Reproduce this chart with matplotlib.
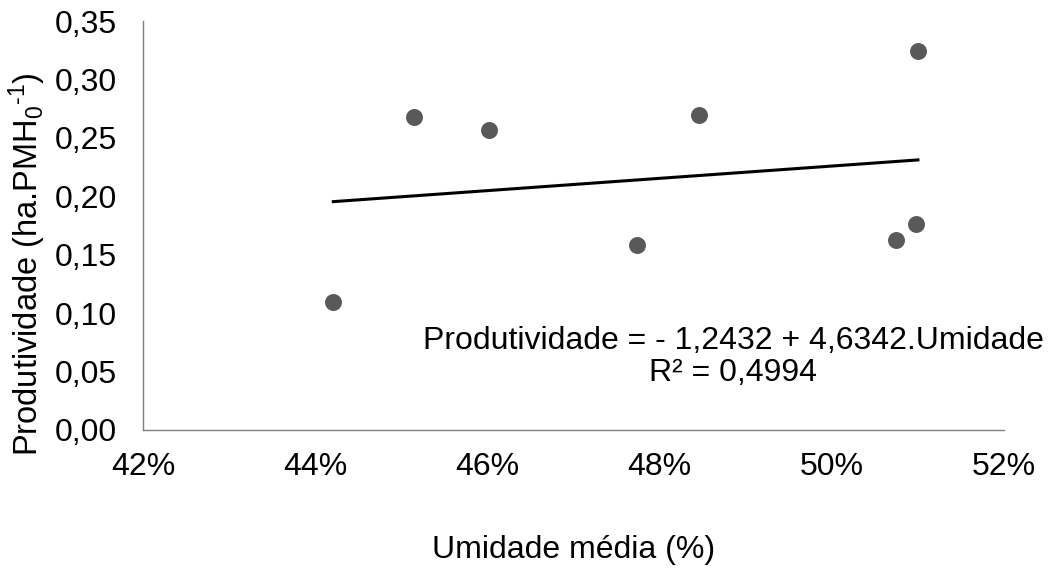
import matplotlib.pyplot as plt
import numpy as np
from matplotlib.ticker import FuncFormatter

# humidity (fraction) and productivity values
umidade = [0.4421, 0.4515, 0.4602, 0.4774, 0.4846, 0.5074, 0.5098, 0.5100]
produtividade = [0.1095, 0.268, 0.2565, 0.158, 0.270, 0.1626, 0.176, 0.324]
equacao = 'Produtividade = - 1,2432 + 4,6342.Umidade\nR² = 0,4994'

plt.rcParams['font.family'] = ['Liberation Sans', 'DejaVu Sans']
plt.rcParams['mathtext.fontset'] = 'custom'
plt.rcParams['mathtext.rm'] = 'Liberation Sans'
plt.rcParams['mathtext.it'] = 'Liberation Sans'
plt.rcParams['mathtext.default'] = 'regular'

fig = plt.figure(figsize=(10.53, 5.69), dpi=100)
ax = fig.add_axes([0.1358, 0.2443, 0.8177, 0.7187])

ax.scatter(umidade, produtividade, s=125, color='#595959', zorder=3)

# linear trend line over the range of the data
coef = np.polyfit(umidade, produtividade, 1)
xl = np.array([min(umidade), max(umidade)])
ax.plot(xl, np.polyval(coef, xl), color='black', lw=2.2)

ax.set_xlim(0.42, 0.52)
ax.set_ylim(0, 0.35)
ax.set_xticks(np.arange(0.42, 0.5201, 0.02))
ax.set_yticks(np.arange(0, 0.3501, 0.05))
ax.xaxis.set_major_formatter(FuncFormatter(lambda v, p: '%d%%' % round(v * 100)))
ax.yaxis.set_major_formatter(FuncFormatter(lambda v, p: ('%.2f' % v).replace('.', ',')))
ax.tick_params(length=0, labelsize=23)
ax.tick_params(axis='x', pad=16)
ax.tick_params(axis='y', pad=19)

for s in ['top', 'right']:
    ax.spines[s].set_visible(False)
for s in ['left', 'bottom']:
    ax.spines[s].set_color('#7f7f7f')
    ax.spines[s].set_linewidth(1.0)

ax.set_xlabel('Umidade média (%)', fontsize=23, labelpad=38)
ax.set_ylabel(r'Produtividade (ha.PMH$_0$$^{\text{-}1}$)', fontsize=23.5)
ax.yaxis.set_label_coords(-0.110, 0.405)

fig.text(733 / 1053, 1 - 357 / 569, equacao, ha='center', va='center',
         multialignment='center', fontsize=23, linespacing=1.05)

fig.savefig('out.png', dpi=100)
